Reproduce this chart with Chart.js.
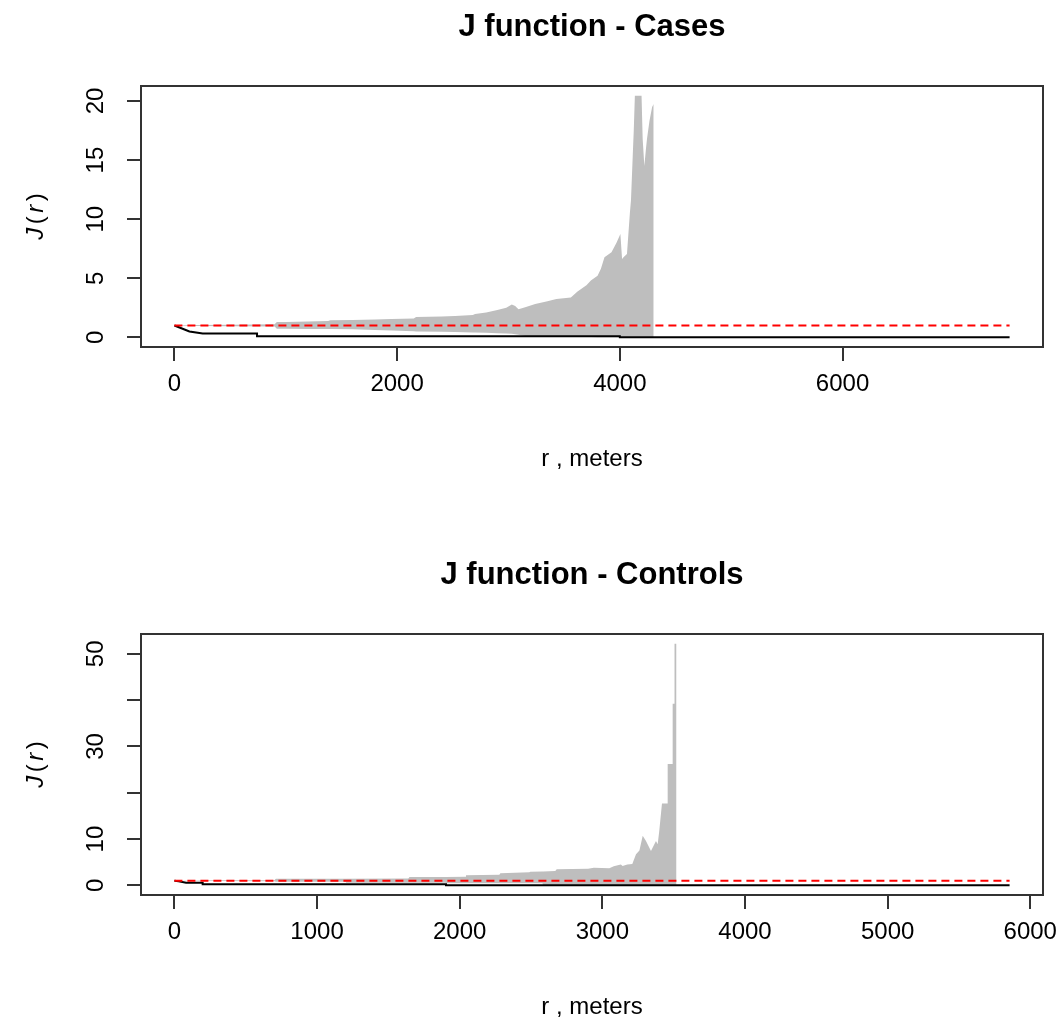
<!DOCTYPE html>
<html>
<head>
<meta charset="utf-8">
<script src="https://cdn.jsdelivr.net/npm/chart.js@4.4.1/dist/chart.umd.min.js"></script>
<style>
  html, body { margin: 0; padding: 0; background: #fff; width: 1064px; height: 1022px; overflow: hidden; }
  canvas { position: absolute; left: 0; }
  #cases { top: 0; }
  #controls { top: 548px; }
</style>
</head>
<body>
<canvas id="cases" width="1064" height="474"></canvas>
<canvas id="controls" width="1064" height="474"></canvas>
<script>
const FONT = '"Liberation Sans", Arial, Helvetica, sans-serif';
Chart.defaults.font.family = FONT;
Chart.defaults.color = '#000';

const xTitle = 'r , meters';

// ---- Cases: simulation envelope (lo/hi), observed J and Poisson J = 1 ----
const casesTitle = 'J function - Cases';
const casesEnvR = [0, 50, 200, 500, 900, 920, 1000, 1200, 1380, 1400, 1600, 1800, 1950, 2150, 2170,
  2400, 2520, 2680, 2700, 2800, 2900, 2980, 3030, 3060, 3090, 3150, 3240, 3350, 3430, 3560,
  3620, 3700, 3740, 3800, 3830, 3862, 3925, 3970, 4005, 4020, 4035, 4064, 4090, 4100, 4116,
  4125, 4135, 4195, 4205, 4220, 4235, 4244, 4266, 4290, 4304];
const casesHi = [1.0, 1.03, 1.05, 1.07, 1.1, 1.3, 1.3, 1.35, 1.38, 1.45, 1.47, 1.5, 1.55, 1.6, 1.72,
  1.76, 1.81, 1.9, 1.98, 2.1, 2.32, 2.5, 2.77, 2.65, 2.37, 2.55, 2.83, 3.05, 3.25, 3.38,
  3.87, 4.4, 4.8, 5.22, 5.8, 6.77, 7.19, 8.0, 8.75, 6.63, 6.8, 7.05, 10.5, 11.6, 15.4,
  17.5, 20.45, 20.45, 16.8, 14.5, 16.0, 16.8, 18.3, 19.5, 19.75];
const casesLo = [1.0, 0.97, 0.95, 0.93, 0.92, 0.72, 0.72, 0.71, 0.71, 0.7, 0.68, 0.62, 0.57, 0.52, 0.5,
  0.47, 0.45, 0.41, 0.4, 0.38, 0.35, 0.32, 0.3, 0.26, 0.22, 0.12, 0.1, 0.06, 0.05, 0.04,
  0.03, 0.02, 0.02, 0.01, 0, 0, 0, 0, 0, 0, 0, 0, 0, 0, 0,
  0, 0, 0, 0, 0, 0, 0, 0, 0, 0];
const casesObsR = [0, 40, 135, 254, 742, 742, 4000, 4000, 7500];
const casesObs = [1.0, 0.85, 0.5, 0.32, 0.32, 0.1, 0.1, 0.0, 0.0];
const casesTheoR = [0, 7500];
const casesTheo = [1, 1];
const casesXTicks = [0, 2000, 4000, 6000];
const casesYTicks = [0, 5, 10, 15, 20];
const casesYLabels = ['0', '5', '10', '15', '20'];

// ---- Controls ----
const controlsTitle = 'J function - Controls';
const controlsEnvR = [0, 300, 700, 712, 1200, 1204, 1640, 1648, 1900, 1904, 2040, 2044, 2278, 2285, 2488,
  2495, 2580, 2585, 2670, 2680, 2900, 2940, 3049, 3080, 3130, 3142, 3175, 3210, 3236, 3260,
  3283, 3306, 3341, 3376, 3388, 3399, 3418, 3455, 3458, 3490, 3493, 3505, 3506, 3520];
const controlsHi = [1.0, 1.1, 1.12, 1.43, 1.44, 1.44, 1.45, 1.8, 1.82, 1.82, 1.85, 2.2, 2.3, 2.6, 2.8,
  2.95, 3.0, 3.0, 3.1, 3.46, 3.6, 3.8, 3.7, 4.1, 4.5, 4.2, 4.5, 4.6, 6.7, 7.5,
  10.7, 9.6, 7.4, 9.6, 8.9, 11.75, 17.7, 17.7, 26.2, 26.2, 39.2, 39.2, 52.2, 52.2];
const controlsLo = [1.0, 0.92, 0.9, 0.8, 0.8, 0.55, 0.55, 0.55, 0.55, 0.45, 0.45, 0.45, 0.45, 0.45, 0.45,
  0.45, 0.45, 0, 0, 0, 0, 0, 0, 0, 0, 0, 0, 0, 0, 0,
  0, 0, 0, 0, 0, 0, 0, 0, 0, 0, 0, 0, 0, 0];
const controlsObsR = [0, 30, 82, 198, 198, 1904, 1904, 5855];
const controlsObs = [1.0, 0.9, 0.56, 0.56, 0.22, 0.22, 0.0, 0.0];
const controlsTheoR = [0, 5855];
const controlsTheo = [1, 1];
const controlsXTicks = [0, 1000, 2000, 3000, 4000, 5000, 6000];
const controlsYTicks = [0, 10, 20, 30, 40, 50];
const controlsYLabels = ['0', '10', '', '30', '', '50'];

const pts = (xs, ys) => xs.map((x, i) => ({ x, y: ys[i] }));
// base-graphics style axis range: data range padded by 4% on each side
const padRange = (lo, hi) => { const d = (hi - lo) * 0.04; return [lo - d, hi + d]; };

// Frame, rotated y tick labels, y-axis title and main title
const rPlot = {
  id: 'rPlot',
  afterDraw(chart, args, opts) {
    const { ctx, chartArea: a, scales: { y } } = chart;
    ctx.save();
    ctx.strokeStyle = '#333';
    ctx.lineWidth = 2;
    ctx.strokeRect(a.left, a.top, a.right - a.left, a.bottom - a.top);

    ctx.fillStyle = '#000';
    ctx.font = '24px ' + FONT;
    ctx.textAlign = 'center';
    ctx.textBaseline = 'alphabetic';
    opts.yTicks.forEach((v, i) => {
      const lab = opts.yLabels[i];
      if (!lab) return;
      ctx.save();
      ctx.translate(103, y.getPixelForValue(v));
      ctx.rotate(-Math.PI / 2);
      ctx.fillText(lab, 0, 0);
      ctx.restore();
    });

    // J(r) with italic J and r
    const it = 'italic 24px ' + FONT, up = '24px ' + FONT;
    const parts = [['J', it], ['(', up], ['r', it], [')', up]];
    const gap = 3.5;
    const widths = parts.map(([t, f]) => { ctx.font = f; return ctx.measureText(t).width; });
    const total = widths.reduce((s, w) => s + w, 0) + gap * (parts.length - 1);
    ctx.save();
    ctx.translate(36, (a.top + a.bottom) / 2);
    ctx.rotate(-Math.PI / 2);
    ctx.textAlign = 'left';
    ctx.textBaseline = 'middle';
    let px = -total / 2;
    parts.forEach(([t, f], i) => { ctx.font = f; ctx.fillText(t, px, 0); px += widths[i] + gap; });
    ctx.restore();

    ctx.font = 'bold 31px ' + FONT;
    ctx.textAlign = 'center';
    ctx.textBaseline = 'middle';
    ctx.fillText(opts.title, (a.left + a.right) / 2, 27);
    ctx.restore();
  }
};

function panel(id, c) {
  const xr = padRange(0, Math.max(...c.theoR));
  const all = [...c.hi, ...c.lo, ...c.obs, ...c.theo];
  const yr = padRange(Math.min(...all), Math.max(...all));
  const grid = { drawOnChartArea: false, drawTicks: true, tickLength: 14, color: '#333', lineWidth: 2 };
  new Chart(document.getElementById(id), {
    type: 'line',
    data: {
      datasets: [
        { label: 'theo', data: pts(c.theoR, c.theo), borderColor: '#ff0000', borderWidth: 2,
          borderDash: [8, 5], borderCapStyle: 'butt', pointRadius: 0, fill: false, tension: 0 },
        { label: 'obs', data: pts(c.obsR, c.obs), borderColor: '#000000', borderWidth: 2,
          pointRadius: 0, fill: false, tension: 0 },
        { label: 'hi', data: pts(c.envR, c.hi), borderWidth: 0, borderColor: 'rgba(0,0,0,0)',
          backgroundColor: '#bebebe', fill: '+1', pointRadius: 0, tension: 0 },
        { label: 'lo', data: pts(c.envR, c.lo), borderWidth: 0, borderColor: 'rgba(0,0,0,0)',
          backgroundColor: '#bebebe', fill: false, pointRadius: 0, tension: 0 }
      ]
    },
    options: {
      responsive: false,
      animation: false,
      devicePixelRatio: 1,
      events: [],
      layout: { padding: { left: 0, right: 21, top: 86, bottom: 0 } },
      plugins: {
        legend: { display: false },
        tooltip: { enabled: false },
        title: { display: false },
        rPlot: { title: c.title, yTicks: c.yTicks, yLabels: c.yLabels }
      },
      scales: {
        x: {
          type: 'linear', min: xr[0], max: xr[1],
          afterBuildTicks: s => { s.ticks = c.xTicks.map(v => ({ value: v })); },
          afterFit: s => { s.height = 127; s.paddingLeft = 0; s.paddingRight = 0; },
          grid, border: { display: false },
          ticks: { autoSkip: false, maxRotation: 0, minRotation: 0, padding: 9,
                   font: { size: 24 }, color: '#000', callback: v => String(v) },
          title: { display: true, text: xTitle, font: { size: 24 }, color: '#000',
                   padding: { top: 0, bottom: 0 } }
        },
        y: {
          type: 'linear', min: yr[0], max: yr[1],
          afterBuildTicks: s => { s.ticks = c.yTicks.map(v => ({ value: v })); },
          afterFit: s => { s.width = 141; },
          grid, border: { display: false },
          ticks: { display: false }
        }
      }
    },
    plugins: [rPlot]
  });
}

panel('cases', {
  title: casesTitle, envR: casesEnvR, hi: casesHi, lo: casesLo,
  obsR: casesObsR, obs: casesObs, theoR: casesTheoR, theo: casesTheo,
  xTicks: casesXTicks, yTicks: casesYTicks, yLabels: casesYLabels
});
panel('controls', {
  title: controlsTitle, envR: controlsEnvR, hi: controlsHi, lo: controlsLo,
  obsR: controlsObsR, obs: controlsObs, theoR: controlsTheoR, theo: controlsTheo,
  xTicks: controlsXTicks, yTicks: controlsYTicks, yLabels: controlsYLabels
});
</script>
</body>
</html>
